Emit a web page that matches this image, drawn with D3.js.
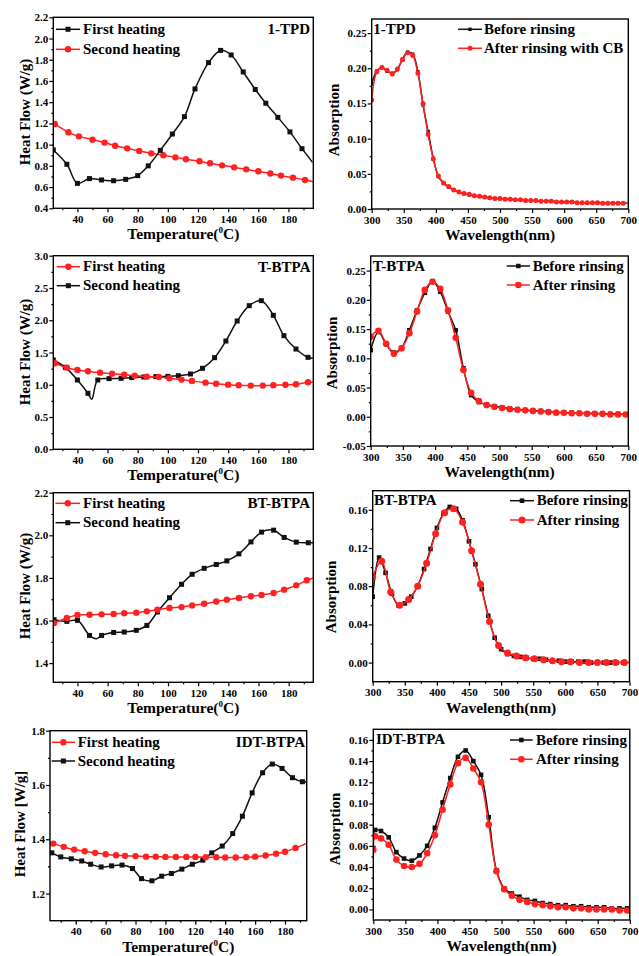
<!DOCTYPE html>
<html>
<head>
<meta charset="utf-8">
<script src="https://cdn.jsdelivr.net/npm/d3@7"></script>
<style>
  body { margin: 0; background: #fff; }
  svg text { font-family: "Liberation Serif", "Times New Roman", serif; font-weight: bold; }
</style>
</head>
<body>
<div id="wrapper"></div>
<script>
// ---------- DSC data (temperature in C, heat flow in W/g) ----------
// 1-TPD
const tpdFirstT = [24, 33, 40, 48, 56, 64, 72, 80, 87, 95, 103, 111, 118, 127, 135, 142, 150, 158, 165, 173, 181, 189, 196]
const tpdFirstHF = [0.95, 0.815, 0.635, 0.68, 0.667, 0.66, 0.673, 0.708, 0.80, 0.946, 1.10, 1.264, 1.525, 1.773, 1.888, 1.845, 1.685, 1.52, 1.39, 1.257, 1.12, 0.962, 0.833]
const tpdSecondT = [25, 34, 41, 50, 58, 65, 73, 81, 89, 97, 105, 112, 121, 128, 136, 144, 152, 160, 168, 175, 183, 191, 196.5]
const tpdSecondHF = [1.195, 1.116, 1.078, 1.047, 1.019, 0.99, 0.965, 0.94, 0.918, 0.90, 0.88, 0.862, 0.843, 0.824, 0.805, 0.786, 0.767, 0.749, 0.728, 0.708, 0.689, 0.667, 0.651]

// T-BTPA
const tbFirstT = [25, 33, 40, 47, 55, 63, 71, 78, 86, 94, 101, 109, 116, 125, 132, 140, 147, 155, 163, 170, 178, 185, 193, 196.3]
const tbFirstHF = [1.333, 1.265, 1.229, 1.209, 1.188, 1.172, 1.157, 1.141, 1.126, 1.121, 1.10, 1.08, 1.059, 1.033, 1.017, 1.002, 0.992, 0.987, 0.987, 0.992, 1.0, 1.007, 1.038, 1.04]
const tbSecondT = [24, 32, 40, 47, 49.5, 53.5, 61, 69, 76, 84, 92, 100, 107, 115, 123, 131, 138.5, 146, 154, 162, 170, 177, 185, 193, 196.3]
const tbSecondHF = [1.384, 1.27, 1.074, 0.868, 0.775, 1.074, 1.095, 1.10, 1.112, 1.12, 1.126, 1.13, 1.14, 1.167, 1.255, 1.42, 1.678, 1.988, 2.226, 2.303, 2.076, 1.761, 1.554, 1.425, 1.41]

// BT-BTPA
const btFirstT = [24.5, 33, 40, 48, 56, 64, 71, 79, 86, 93, 101, 109, 116, 124, 132, 139, 147, 155, 162, 170, 177, 185, 192, 196.3]
const btFirstHF = [1.588, 1.612, 1.626, 1.627, 1.629, 1.631, 1.634, 1.637, 1.643, 1.651, 1.659, 1.663, 1.671, 1.679, 1.689, 1.698, 1.706, 1.714, 1.72, 1.729, 1.745, 1.765, 1.789, 1.80]
const btSecondT = [24.5, 33, 40, 48, 52.5, 56, 64, 71, 79, 86, 93, 101, 109, 116, 124, 132, 139, 147, 155, 162, 170, 177, 185, 193, 196.3]
const btSecondHF = [1.604, 1.596, 1.601, 1.53, 1.514, 1.53, 1.544, 1.546, 1.554, 1.577, 1.64, 1.707, 1.77, 1.817, 1.845, 1.863, 1.88, 1.913, 1.969, 2.015, 2.024, 1.99, 1.968, 1.965, 1.965]

// IDT-BTPA
const idtFirstT = [25, 32, 39, 46, 53, 60, 67, 73, 80, 87, 93.5, 100, 107, 114, 120, 127, 134, 140, 147, 154, 160, 167, 174, 180, 187, 194]
const idtFirstHF = [1.384, 1.372, 1.362, 1.356, 1.35, 1.345, 1.341, 1.339, 1.338, 1.336, 1.336, 1.335, 1.335, 1.335, 1.335, 1.334, 1.334, 1.333, 1.333, 1.334, 1.336, 1.34, 1.347, 1.354, 1.368, 1.384]
const idtSecondT = [24, 30, 37, 44, 50, 57, 64, 71, 78, 84, 91, 97.5, 104, 111, 118, 125, 131, 138, 145, 151.5, 158, 165, 171.5, 178, 185, 191.6, 194.5]
const idtSecondHF = [1.35, 1.335, 1.328, 1.32, 1.308, 1.298, 1.302, 1.305, 1.292, 1.255, 1.247, 1.264, 1.274, 1.29, 1.308, 1.323, 1.35, 1.375, 1.421, 1.485, 1.571, 1.645, 1.677, 1.661, 1.627, 1.612, 1.612]

// ---------- UV-vis data (wavelength in nm, absorption) ----------
// 1-TPD
const tpdWl = [300, 308, 316, 324, 332, 340, 348, 356, 364, 372,
  380, 388, 396, 404, 412, 420, 428, 436, 444, 452,
  460, 468, 476, 484, 492, 500, 508, 516, 524, 532,
  540, 548, 556, 564, 572, 580, 588, 596, 604, 612,
  620, 628, 636, 644, 652, 660, 668, 676, 684, 692, 700]
const tpdBefore = [0.178, 0.196, 0.201, 0.196, 0.193, 0.198, 0.213, 0.223, 0.220, 0.195,
  0.148, 0.110, 0.072, 0.046, 0.037, 0.031, 0.027, 0.024, 0.022, 0.020,
  0.019, 0.018, 0.017, 0.016, 0.015, 0.015, 0.014, 0.014, 0.013, 0.013,
  0.012, 0.012, 0.012, 0.011, 0.011, 0.011, 0.010, 0.010, 0.010, 0.010,
  0.009, 0.009, 0.009, 0.009, 0.009, 0.008, 0.008, 0.008, 0.008, 0.008, 0.008]
const tpdAfter = [0.155, 0.195, 0.201, 0.197, 0.192, 0.199, 0.212, 0.222, 0.218, 0.193,
  0.150, 0.106, 0.071, 0.047, 0.037, 0.032, 0.027, 0.024, 0.022, 0.021,
  0.019, 0.018, 0.017, 0.016, 0.015, 0.015, 0.014, 0.014, 0.013, 0.013,
  0.012, 0.012, 0.012, 0.011, 0.011, 0.011, 0.010, 0.010, 0.010, 0.010,
  0.009, 0.009, 0.009, 0.009, 0.009, 0.008, 0.008, 0.008, 0.008, 0.008, 0.008]

// T-BTPA
const tbWl = [300, 312, 324, 336, 348, 360, 372, 384, 396, 408,
  420, 432, 444, 456, 468, 480, 492, 504, 516, 528,
  540, 552, 564, 576, 588, 600, 612, 624, 636, 648,
  660, 672, 684, 696, 700]
const tbBefore = [0.114, 0.145, 0.124, 0.110, 0.118, 0.148, 0.182, 0.212, 0.232, 0.214,
  0.180, 0.148, 0.083, 0.037, 0.025, 0.021, 0.018, 0.016, 0.014, 0.013,
  0.011, 0.010, 0.010, 0.009, 0.008, 0.007, 0.007, 0.006, 0.006, 0.006,
  0.005, 0.005, 0.005, 0.004, 0.004]
const tbAfter = [0.137, 0.147, 0.125, 0.108, 0.117, 0.143, 0.180, 0.217, 0.231, 0.219,
  0.182, 0.135, 0.080, 0.041, 0.027, 0.020, 0.017, 0.015, 0.013, 0.012,
  0.011, 0.010, 0.009, 0.008, 0.007, 0.007, 0.006, 0.006, 0.005, 0.005,
  0.005, 0.004, 0.004, 0.004, 0.004]

// BT-BTPA
const btWlBefore = [300, 310, 320, 330, 340, 350, 360, 370, 380, 390,
  400, 410, 420, 430, 440, 450, 460, 470, 480, 490,
  500, 510, 520, 530, 540, 550, 560, 570, 580, 590,
  600, 610, 620, 630, 640, 650, 660, 670, 680, 690, 700]
const btBefore = [0.069, 0.110, 0.094, 0.072, 0.060, 0.062, 0.069, 0.080, 0.098, 0.119,
  0.141, 0.156, 0.163, 0.161, 0.149, 0.127, 0.103, 0.077, 0.049, 0.026,
  0.014, 0.009, 0.007, 0.006, 0.005, 0.004, 0.004, 0.003, 0.002, 0.002,
  0.001, 0.001, 0.001, 0.001, 0.000, 0.000, 0.000, 0.000, 0.000, 0.000, 0.000]
const btWlAfter = [300, 314, 328, 342, 356, 370, 384, 398, 412, 426,
  440, 454, 468, 482, 496, 510, 524, 538, 552, 566,
  580, 594, 608, 622, 636, 650, 664, 678, 692, 700]
const btAfter = [0.090, 0.106, 0.074, 0.060, 0.066, 0.080, 0.104, 0.135, 0.157, 0.161,
  0.147, 0.117, 0.082, 0.043, 0.018, 0.010, 0.007, 0.005, 0.004, 0.003,
  0.002, 0.001, 0.001, 0.000, 0.000, 0.000, 0.000, 0.000, 0.000, 0.000]

// IDT-BTPA
const idtWl = [300, 303, 312, 324, 336, 348, 360, 372, 384, 396,
  408, 420, 432, 444, 456, 468, 480, 492, 504, 516,
  528, 540, 552, 564, 576, 588, 600, 612, 624, 636,
  648, 660, 672, 684, 696, 700]
const idtBefore = [0.058, 0.075, 0.074, 0.068, 0.054, 0.048, 0.046, 0.051, 0.060, 0.077,
  0.101, 0.124, 0.144, 0.150, 0.140, 0.127, 0.087, 0.037, 0.020, 0.015,
  0.012, 0.009, 0.008, 0.006, 0.005, 0.004, 0.004, 0.003, 0.003, 0.002,
  0.002, 0.002, 0.001, 0.001, 0.001, 0.001]
const idtAfter = [0.056, 0.069, 0.067, 0.061, 0.047, 0.041, 0.040, 0.043, 0.053, 0.070,
  0.094, 0.118, 0.138, 0.143, 0.133, 0.120, 0.080, 0.036, 0.019, 0.013,
  0.009, 0.007, 0.005, 0.004, 0.003, 0.002, 0.002, 0.001, 0.001, 0.000,
  0.000, 0.000, 0.000, -0.001, -0.001, -0.001]

// ---------- ticks ----------
const tempTicks = [40, 60, 80, 100, 120, 140, 160, 180]
const tempMinor = [30, 50, 70, 90, 110, 130, 150, 170, 190]
const wlTicks = [300, 350, 400, 450, 500, 550, 600, 650, 700]
const wlMinor = [325, 375, 425, 475, 525, 575, 625, 675]

const tpdHFTicks = [0.4, 0.6, 0.8, 1.0, 1.2, 1.4, 1.6, 1.8, 2.0, 2.2]
const tpdHFMinor = [0.5, 0.7, 0.9, 1.1, 1.3, 1.5, 1.7, 1.9, 2.1]
const tbHFTicks = [0.0, 0.5, 1.0, 1.5, 2.0, 2.5, 3.0]
const tbHFMinor = [0.25, 0.75, 1.25, 1.75, 2.25, 2.75]
const btHFTicks = [1.4, 1.6, 1.8, 2.0, 2.2]
const btHFMinor = [1.5, 1.7, 1.9, 2.1]
const idtHFTicks = [1.2, 1.4, 1.6, 1.8]
const idtHFMinor = [1.3, 1.5, 1.7]

const tpdAbsTicks = [0, 0.05, 0.10, 0.15, 0.20, 0.25]
const tpdAbsMinor = [0.025, 0.075, 0.125, 0.175, 0.225]
const tbAbsTicks = [-0.05, 0, 0.05, 0.10, 0.15, 0.20, 0.25]
const tbAbsMinor = [-0.025, 0.025, 0.075, 0.125, 0.175, 0.225]
const btAbsTicks = [0, 0.04, 0.08, 0.12, 0.16]
const btAbsMinor = [0.02, 0.06, 0.10, 0.14]
const idtAbsTicks = [0, 0.02, 0.04, 0.06, 0.08, 0.10, 0.12, 0.14, 0.16]
const idtAbsMinor = [0.01, 0.03, 0.05, 0.07, 0.09, 0.11, 0.13, 0.15]

const RED = "#ff2020"
const BLACK = "#111"

function drawFigure() {
  const svg = d3.select("#wrapper")
    .append("svg")
      .attr("width", 639)
      .attr("height", 956)

  svg.append("rect")
      .attr("width", 639)
      .attr("height", 956)
      .attr("fill", "white")

  const dscSquare = { marker: "square", size: 5, color: BLACK }
  const dscCircle = { marker: "circle", size: 6.4, color: RED }

  // left column: DSC, right column: absorption
  const panels = [
    {
      id: "p1", left: 53.3, right: 313.3, top: 17.3, bottom: 208.3,
      xDomain: [24, 196.5], yDomain: [0.4, 2.2],
      xTicks: tempTicks, xMinor: tempMinor, yTicks: tpdHFTicks, yMinor: tpdHFMinor, yDigits: 1,
      xTitle: "temp", yTitle: "Heat Flow (W/g)", yTitleX: 25, yTitleY: 112,
      label: "1-TPD", labelX: 310, labelY: 33.5, labelAnchor: "end",
      legend: { x0: 56, x1: 80, tx: 83, y1: 29.3, y2: 49.3 },
      series: [
        { ...dscCircle, x: tpdSecondT, y: tpdSecondHF, name: "Second heating", row: 2 },
        { ...dscSquare, x: tpdFirstT, y: tpdFirstHF, name: "First heating", row: 1 }
      ]
    },
    {
      id: "p3", left: 53.3, right: 313.3, top: 255.7, bottom: 449.3,
      xDomain: [24, 196.5], yDomain: [0, 3.0],
      xTicks: tempTicks, xMinor: tempMinor, yTicks: tbHFTicks, yMinor: tbHFMinor, yDigits: 1,
      xTitle: "temp", yTitle: "Heat Flow (W/g)", yTitleX: 25, yTitleY: 352,
      label: "T-BTPA", labelX: 310.5, labelY: 271.5, labelAnchor: "end",
      legend: { x0: 56.7, x1: 80, tx: 83, y1: 266.7, y2: 285.7 },
      series: [
        { ...dscSquare, x: tbSecondT, y: tbSecondHF, name: "Second heating", row: 2, unmarked: [4] },
        { ...dscCircle, x: tbFirstT, y: tbFirstHF, name: "First heating", row: 1 }
      ]
    },
    {
      id: "p5", left: 53.3, right: 313.3, top: 492.7, bottom: 682.3,
      xDomain: [24, 196.3], yDomain: [1.31, 2.2],
      xTicks: tempTicks, xMinor: tempMinor, yTicks: btHFTicks, yMinor: btHFMinor, yDigits: 1,
      xTitle: "temp", yTitle: "Heat Flow (W/g)", yTitleX: 25, yTitleY: 586,
      label: "BT-BTPA", labelX: 310, labelY: 507.5, labelAnchor: "end",
      legend: { x0: 55.5, x1: 80, tx: 83, y1: 503.3, y2: 522.7 },
      series: [
        { ...dscSquare, x: btSecondT, y: btSecondHF, name: "Second heating", row: 2, unmarked: [4] },
        { ...dscCircle, x: btFirstT, y: btFirstHF, name: "First heating", row: 1 }
      ]
    },
    {
      id: "p7", left: 50, right: 306.7, top: 730.7, bottom: 920.7,
      xDomain: [22.8, 194.5], yDomain: [1.1, 1.8],
      xTicks: tempTicks, xMinor: tempMinor, yTicks: idtHFTicks, yMinor: idtHFMinor, yDigits: 1,
      xTitle: "temp", yTitle: "Heat Flow [W/g]", yTitleX: 20, yTitleY: 824,
      label: "IDT-BTPA", labelX: 305, labelY: 746.5, labelAnchor: "end",
      legend: { x0: 51.7, x1: 75, tx: 77.7, y1: 742.3, y2: 761 },
      series: [
        { ...dscSquare, x: idtSecondT, y: idtSecondHF, name: "Second heating", row: 2 },
        { ...dscCircle, x: idtFirstT, y: idtFirstHF, name: "First heating", row: 1 }
      ]
    },
    {
      id: "p2", left: 371.7, right: 628.3, top: 19, bottom: 209,
      xDomain: [300, 700], yDomain: [0, 0.27],
      xTicks: wlTicks, xMinor: wlMinor, yTicks: tpdAbsTicks, yMinor: tpdAbsMinor, yDigits: 2,
      xTitle: "Wavelength(nm)", yTitle: "Absorption", yTitleX: 334, yTitleY: 120,
      label: "1-TPD", labelX: 373.3, labelY: 33.5, labelAnchor: "start",
      legend: { x0: 458, x1: 482, tx: 484, y1: 29.3, y2: 48.3 },
      series: [
        { marker: "square", size: 3.4, color: BLACK, x: tpdWl, y: tpdBefore, name: "Before rinsing", row: 1 },
        { marker: "circle", size: 5, color: RED, x: tpdWl, y: tpdAfter, name: "After rinsing with CB", row: 2 }
      ]
    },
    {
      id: "p4", left: 370.7, right: 628.3, top: 256, bottom: 446,
      xDomain: [300, 700], yDomain: [-0.05, 0.275],
      xTicks: wlTicks, xMinor: wlMinor, yTicks: tbAbsTicks, yMinor: tbAbsMinor, yDigits: 2,
      xTitle: "Wavelength(nm)", yTitle: "Absorption", yTitleX: 331.7, yTitleY: 353,
      label: "T-BTPA", labelX: 372.7, labelY: 270.7, labelAnchor: "start",
      legend: { x0: 506.7, x1: 530, tx: 532.7, y1: 266, y2: 285 },
      series: [
        { marker: "square", size: 4.5, color: BLACK, x: tbWl, y: tbBefore, name: "Before rinsing", row: 1 },
        { marker: "circle", size: 6.6, color: RED, x: tbWl, y: tbAfter, name: "After rinsing", row: 2 }
      ]
    },
    {
      id: "p6", left: 372.7, right: 629.5, top: 490.7, bottom: 681.7,
      xDomain: [300, 700], yDomain: [-0.02, 0.18],
      xTicks: wlTicks, xMinor: wlMinor, yTicks: btAbsTicks, yMinor: btAbsMinor, yDigits: 2,
      xTitle: "Wavelength(nm)", yTitle: "Absorption", yTitleX: 330.7, yTitleY: 597,
      label: "BT-BTPA", labelX: 374, labelY: 505, labelAnchor: "start",
      legend: { x0: 510, x1: 534, tx: 536.7, y1: 500.7, y2: 520 },
      series: [
        { marker: "square", size: 4.6, color: BLACK, x: btWlBefore, y: btBefore, name: "Before rinsing", row: 1 },
        { marker: "circle", size: 7, color: RED, x: btWlAfter, y: btAfter, name: "After rinsing", row: 2 }
      ]
    },
    {
      id: "p8", left: 373.3, right: 629.8, top: 729.3, bottom: 920,
      xDomain: [300, 700], yDomain: [-0.01, 0.17],
      xTicks: wlTicks, xMinor: wlMinor, yTicks: idtAbsTicks, yMinor: idtAbsMinor, yDigits: 2,
      xTitle: "Wavelength(nm)", yTitle: "Absorption", yTitleX: 335, yTitleY: 829,
      label: "IDT-BTPA", labelX: 376, labelY: 744.3, labelAnchor: "start",
      legend: { x0: 510, x1: 532.7, tx: 536, y1: 740, y2: 759.3 },
      series: [
        { marker: "square", size: 4.6, color: BLACK, x: idtWl, y: idtBefore, name: "Before rinsing", row: 1 },
        { marker: "circle", size: 6.6, color: RED, x: idtWl, y: idtAfter, name: "After rinsing", row: 2 }
      ]
    }
  ]

  panels.forEach(p => drawPanel(svg, p))
}

// draw one marker shape at (cx, cy)
function drawMarker(sel, cx, cy, s) {
  if (s.marker === "square") {
    sel.append("rect")
        .attr("x", cx - s.size / 2)
        .attr("y", cy - s.size / 2)
        .attr("width", s.size)
        .attr("height", s.size)
        .attr("fill", s.color)
  } else {
    sel.append("circle")
        .attr("cx", cx)
        .attr("cy", cy)
        .attr("r", s.size / 2)
        .attr("fill", s.color)
  }
}

function drawPanel(svg, p) {
  const xScale = d3.scaleLinear()
      .domain(p.xDomain)
      .range([p.left, p.right])

  const yScale = d3.scaleLinear()
      .domain(p.yDomain)
      .range([p.bottom, p.top])

  const g = svg.append("g")

  const clipId = "clip-" + p.id
  g.append("clipPath")
      .attr("id", clipId)
    .append("rect")
      .attr("x", p.left)
      .attr("y", p.top)
      .attr("width", p.right - p.left)
      .attr("height", p.bottom - p.top)

  const plot = g.append("g")
      .attr("clip-path", `url(#${clipId})`)

  const lineGen = d3.line()
      .x(d => xScale(d.x))
      .y(d => yScale(d.y))
      .curve(d3.curveCatmullRom.alpha(0.5))

  p.series.forEach(s => {
    const pts = s.x.map((v, i) => ({ x: v, y: s.y[i], i: i }))

    plot.append("path")
        .attr("d", lineGen(pts))
        .attr("fill", "none")
        .attr("stroke", s.color)
        .attr("stroke-width", 1.5)

    // markers, not on the frame edge itself
    const skip = s.unmarked || []
    pts.filter(d => !skip.includes(d.i))
      .filter(d => xScale(d.x) < p.right - 2)
      .forEach(d => drawMarker(plot, xScale(d.x), yScale(d.y), s))
  })

  // x axis, major + minor ticks
  g.append("g")
      .attr("transform", `translate(0,${p.bottom})`)
      .call(d3.axisBottom(xScale)
        .tickValues(p.xTicks)
        .tickSize(4)
        .tickPadding(3)
        .tickFormat(d3.format("d")))
  g.append("g")
      .attr("transform", `translate(0,${p.bottom})`)
      .call(d3.axisBottom(xScale)
        .tickValues(p.xMinor)
        .tickSize(2)
        .tickFormat(""))

  // y axis
  g.append("g")
      .attr("transform", `translate(${p.left},0)`)
      .call(d3.axisLeft(yScale)
        .tickValues(p.yTicks)
        .tickSize(4)
        .tickPadding(1)
        .tickFormat(d => d.toFixed(p.yDigits)))
  g.append("g")
      .attr("transform", `translate(${p.left},0)`)
      .call(d3.axisLeft(yScale)
        .tickValues(p.yMinor)
        .tickSize(2)
        .tickFormat(""))

  g.selectAll(".domain").remove()
  g.selectAll(".tick line")
      .attr("stroke", "black")
      .attr("stroke-width", 1.2)
  g.selectAll(".tick text")
      .attr("fill", "black")
      .attr("font-size", 11)

  // frame
  g.append("rect")
      .attr("x", p.left)
      .attr("y", p.top)
      .attr("width", p.right - p.left)
      .attr("height", p.bottom - p.top)
      .attr("fill", "none")
      .attr("stroke", "black")
      .attr("stroke-width", 1.4)

  // x title
  const xt = g.append("text")
      .attr("x", (p.left + p.right) / 2)
      .attr("y", p.bottom + 31)
      .attr("text-anchor", "middle")
      .attr("font-size", 15.5)
  if (p.xTitle === "temp") {
    xt.append("tspan").text("Temperature(")
    xt.append("tspan").attr("font-size", 9).attr("dy", -6).text("0")
    xt.append("tspan").attr("dy", 6).text("C)")
  } else {
    xt.text(p.xTitle)
  }

  // y title
  g.append("text")
      .attr("transform", `translate(${p.yTitleX + 5},${p.yTitleY}) rotate(-90)`)
      .attr("text-anchor", "middle")
      .attr("font-size", 15)
      .text(p.yTitle)

  // sample label
  g.append("text")
      .attr("x", p.labelX)
      .attr("y", p.labelY)
      .attr("text-anchor", p.labelAnchor)
      .attr("font-size", 15)
      .text(p.label)

  // legend
  const lg = g.append("g")
  p.series.forEach(s => {
    const ly = s.row === 1 ? p.legend.y1 : p.legend.y2
    lg.append("line")
        .attr("x1", p.legend.x0)
        .attr("x2", p.legend.x1)
        .attr("y1", ly)
        .attr("y2", ly)
        .attr("stroke", s.color)
        .attr("stroke-width", 1.5)
    drawMarker(lg, (p.legend.x0 + p.legend.x1) / 2, ly, s)
    lg.append("text")
        .attr("x", p.legend.tx)
        .attr("y", ly + 4.5)
        .attr("font-size", 15)
        .text(s.name)
  })
}

drawFigure()
</script>
</body>
</html>
